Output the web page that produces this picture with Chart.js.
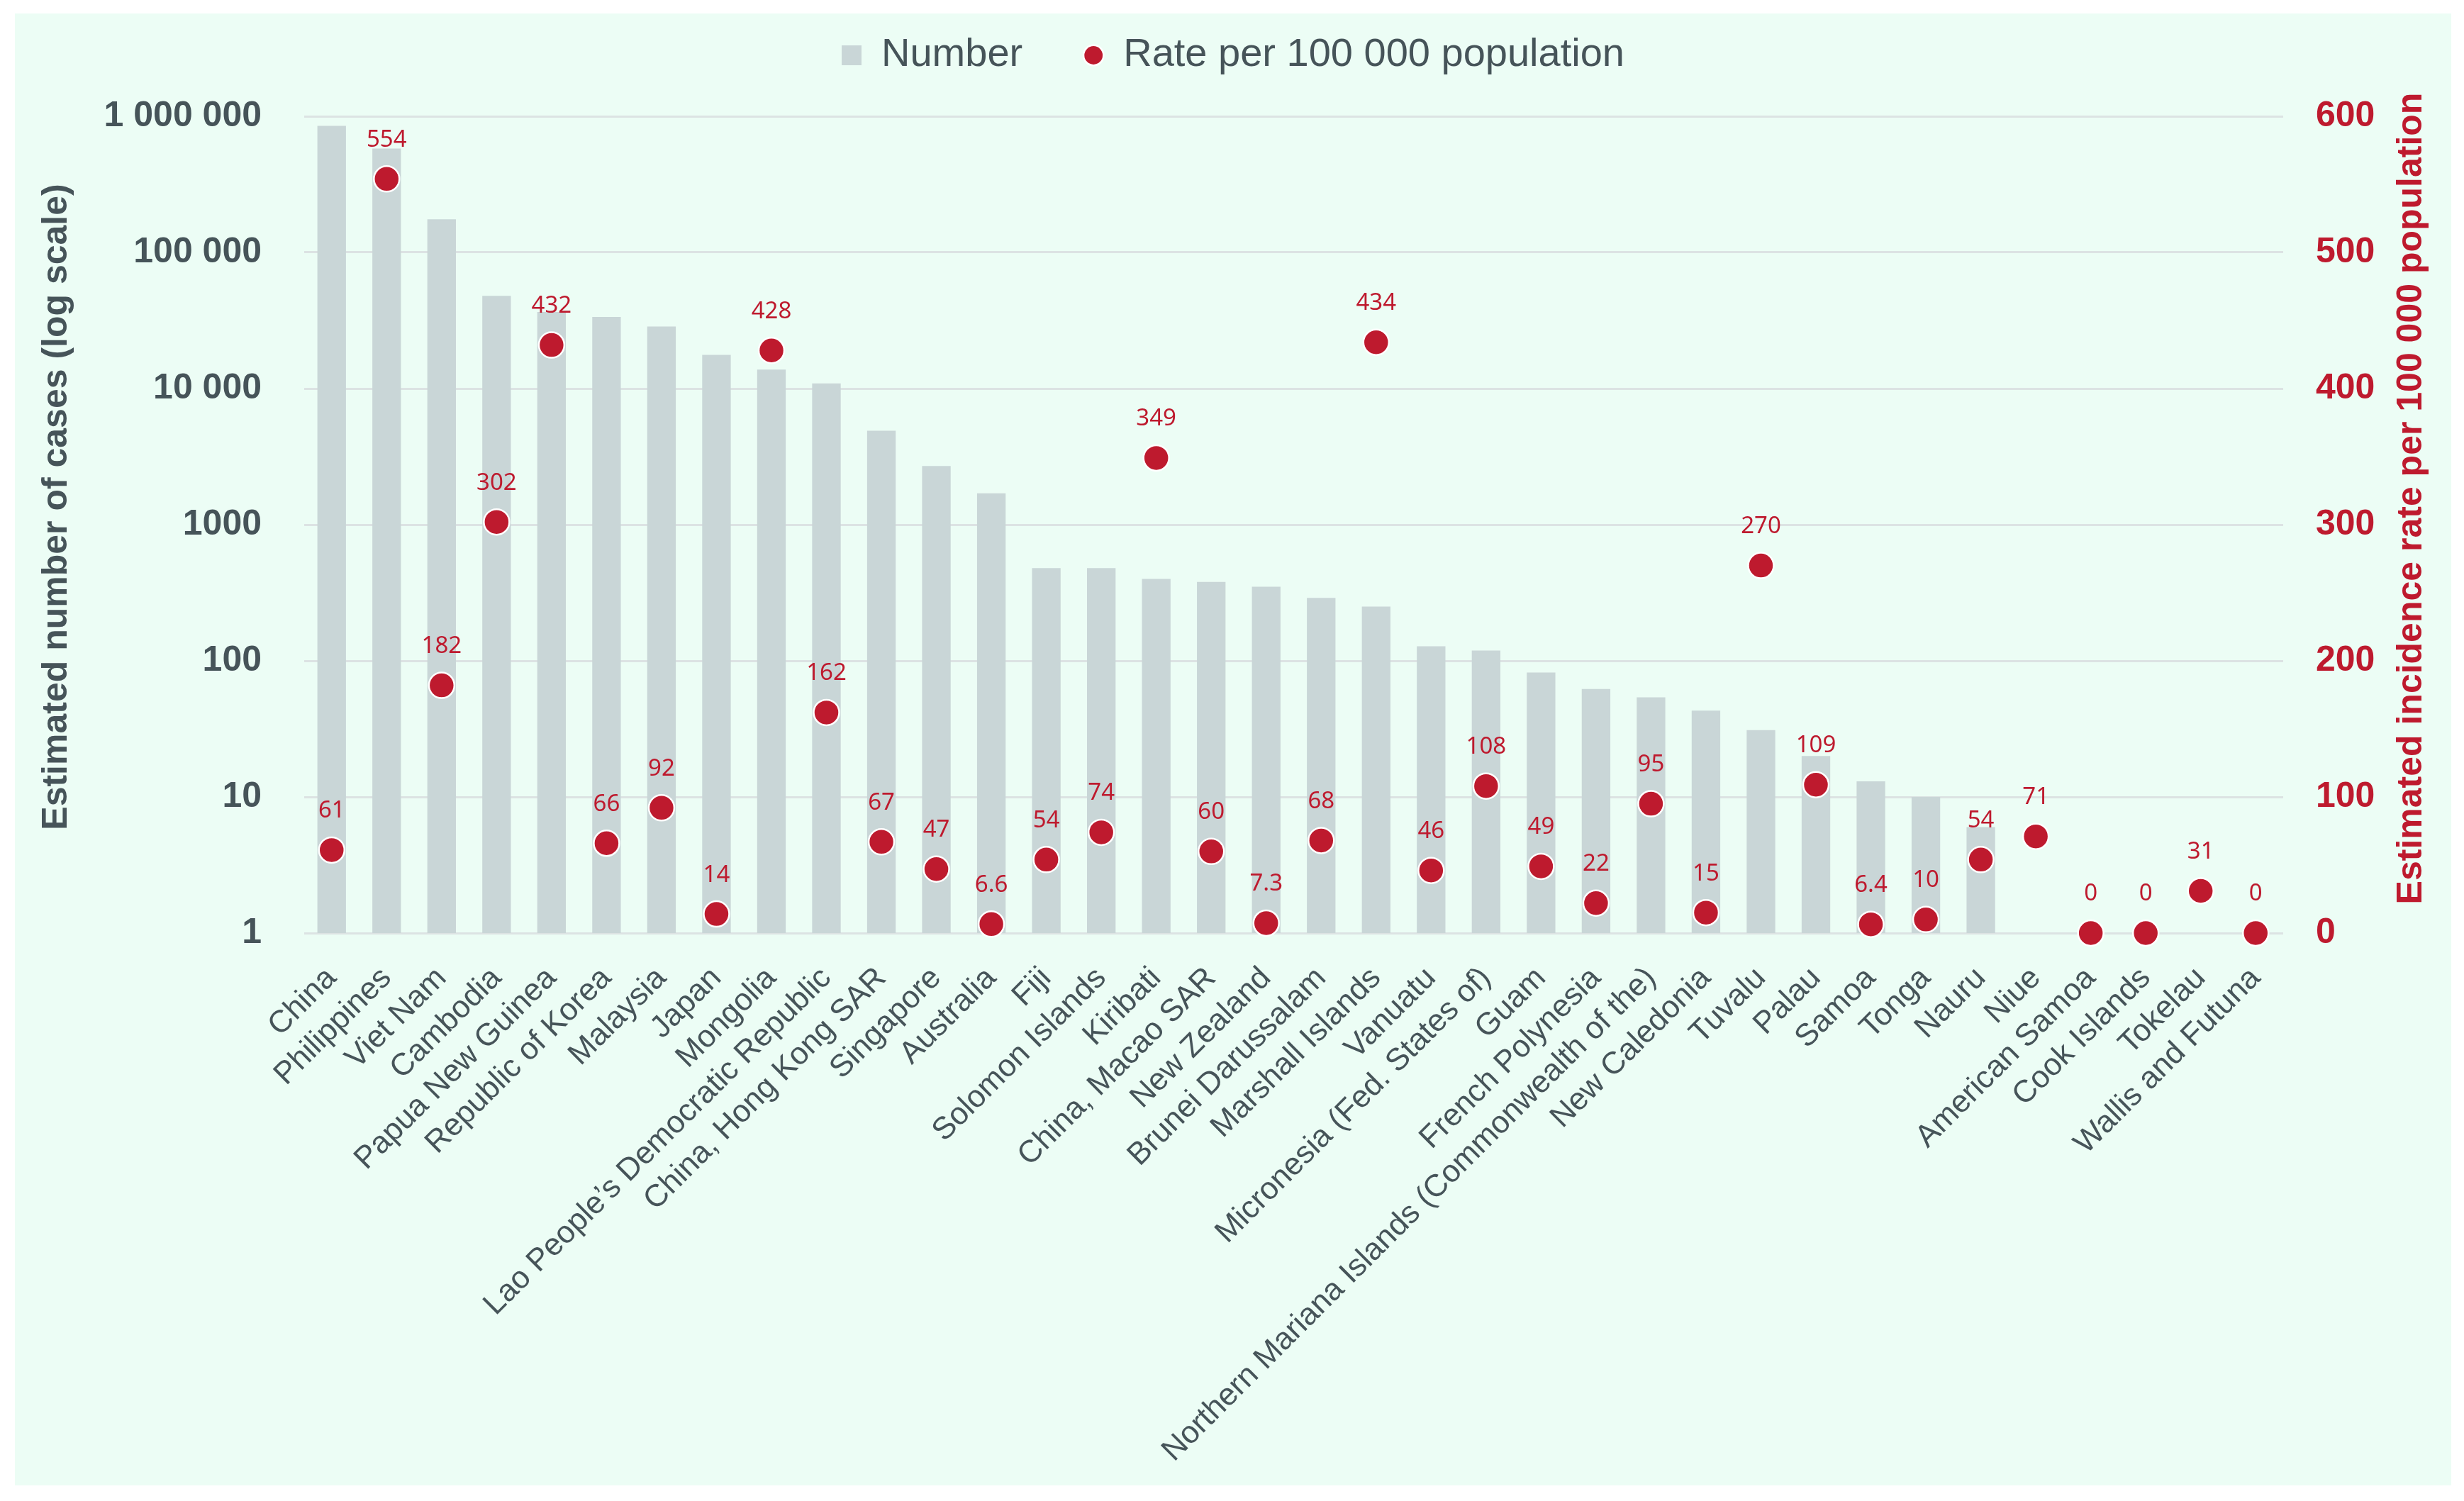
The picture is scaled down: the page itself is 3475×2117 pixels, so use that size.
<!DOCTYPE html>
<html>
<head>
<meta charset="utf-8">
<script src="https://cdn.jsdelivr.net/npm/chart.js@4.4.1/dist/chart.umd.min.js"></script>
<style>
  html, body { margin: 0; padding: 0; background: #ffffff; }
  #frame { position: absolute; left: 21px; top: 19px; width: 3436px; height: 2076px; background: #ecfdf5; }
</style>
</head>
<body>
<div id="frame"><canvas id="tbChart"></canvas></div>
<script>
// data
const countries = ['China', 'Philippines', 'Viet Nam', 'Cambodia', 'Papua New Guinea', 'Republic of Korea',
  'Malaysia', 'Japan', 'Mongolia', 'Lao People’s Democratic Republic', 'China, Hong Kong SAR', 'Singapore',
  'Australia', 'Fiji', 'Solomon Islands', 'Kiribati', 'China, Macao SAR', 'New Zealand', 'Brunei Darussalam',
  'Marshall Islands', 'Vanuatu', 'Micronesia (Fed. States of)', 'Guam', 'French Polynesia',
  'Northern Mariana Islands (Commonwealth of the)', 'New Caledonia', 'Tuvalu', 'Palau', 'Samoa', 'Tonga',
  'Nauru', 'Niue', 'American Samoa', 'Cook Islands', 'Tokelau', 'Wallis and Futuna'];
const cases = [850000, 580000, 175000, 48000, 36500, 33600, 28600, 17700, 13800, 10900, 4900, 2700,
  1700, 480, 480, 400, 380, 350, 290, 250, 128, 119, 82, 62, 54, 43, 31, 20, 13, 10, 6, 1, 0, 0, 1, 0];
const rates = [61, 554, 182, 302, 432, 66, 92, 14, 428, 162, 67, 47, 6.6, 54, 74, 349, 60, 7.3, 68,
  434, 46, 108, 49, 22, 95, 15, 270, 109, 6.4, 10, 54, 71, 0, 0, 31, 0];
const caseTicks = [1, 10, 100, 1000, 10000, 100000, 1000000];
const rateTicks = [0, 100, 200, 300, 400, 500, 600];

const slate = '#465459';
const red = '#be1a2e';
const barGrey = '#c9d6d7';
const gridGrey = '#dce3e3';

// square marker for the "Number" legend entry
const numberMark = document.createElement('canvas');
numberMark.width = 28;
numberMark.height = 28;
const nm = numberMark.getContext('2d');
nm.fillStyle = barGrey;
nm.fillRect(0, 0, 28, 28);

function spaced(v) {
  if (v < 10000) return String(v);
  return String(v).replace(/\B(?=(\d{3})+(?!\d))/g, ' ');
}

// extra room between legend and plot
const legendGap = {
  id: 'legendGap',
  beforeInit(chart) {
    const fit = chart.legend.fit;
    chart.legend.fit = function () {
      fit.bind(chart.legend)();
      this.height += 48;
    };
  }
};

// value labels over the red dots
const rateLabels = {
  id: 'rateLabels',
  afterDatasetsDraw(chart) {
    const ctx = chart.ctx;
    const meta = chart.getDatasetMeta(1);
    ctx.save();
    ctx.font = '33px "Noto Sans"';
    ctx.fillStyle = red;
    ctx.textAlign = 'center';
    ctx.textBaseline = 'middle';
    meta.data.forEach((pt, i) => {
      ctx.fillText(String(rates[i]), pt.x, pt.y - 55);
    });
    ctx.restore();
  }
};

// both axis titles read bottom-to-top, sitting a bit above the plot centre
function sideTitle(ctx, text, x, y, color) {
  ctx.save();
  ctx.translate(x, y);
  ctx.rotate(-Math.PI / 2);
  ctx.font = 'bold 50px "Liberation Sans"';
  ctx.fillStyle = color;
  ctx.textAlign = 'center';
  ctx.textBaseline = 'middle';
  ctx.fillText(text, 0, 0);
  ctx.restore();
}

const axisTitles = {
  id: 'axisTitles',
  afterDraw(chart) {
    const mid = (chart.chartArea.top + chart.chartArea.bottom) / 2;
    sideTitle(chart.ctx, 'Estimated number of cases (log scale)', 59, mid - 25, slate);
    sideTitle(chart.ctx, 'Estimated incidence rate per 100 000 population', 3380, mid - 37, red);
  }
};

const ctx = document.getElementById('tbChart').getContext('2d');
new Chart(ctx, {
  type: 'bar',
  data: {
    labels: countries,
    datasets: [{
      label: 'Number',
      data: cases,
      yAxisID: 'y',
      order: 1,
      backgroundColor: barGrey,
      borderWidth: 0,
      barPercentage: 0.52,
      categoryPercentage: 1.0,
      pointStyle: numberMark
    }, {
      type: 'line',
      label: 'Rate per 100 000 population',
      data: rates,
      yAxisID: 'y1',
      order: 0,
      showLine: false,
      clip: false,
      pointStyle: 'circle',
      pointRadius: 18,
      pointHoverRadius: 18,
      pointBackgroundColor: red,
      pointBorderColor: '#ffffff',
      pointBorderWidth: 2.5,
      backgroundColor: red,
      borderColor: red
    }]
  },
  options: {
    responsive: true,
    maintainAspectRatio: false,
    animation: false,
    devicePixelRatio: 1,
    layout: { padding: { top: -55, left: 0, right: 0, bottom: 0 } },
    plugins: {
      tooltip: { enabled: false },
      legend: {
        position: 'top',
        labels: {
          usePointStyle: true,
          boxWidth: 28,
          boxHeight: 20,
          padding: 86,
          color: slate,
          font: { family: '"Liberation Sans", Arial, sans-serif', size: 56 },
          sort: (a, b) => a.datasetIndex - b.datasetIndex
        }
      }
    },
    scales: {
      x: {
        grid: { display: false },
        border: { display: false },
        ticks: {
          autoSkip: false,
          minRotation: 45,
          maxRotation: 45,
          padding: 30,
          color: slate,
          font: { family: '"Liberation Sans", Arial, sans-serif', size: 44 }
        },
        afterFit: (scale) => { scale.height = 779; }
      },
      y: {
        type: 'logarithmic',
        position: 'left',
        min: 1,
        max: 1000000,
        afterBuildTicks: (axis) => { axis.ticks = caseTicks.map(v => ({ value: v })); },
        grid: { color: gridGrey, lineWidth: 3, drawTicks: false },
        border: { display: false },
        ticks: {
          padding: 60,
          color: slate,
          font: { family: '"Liberation Sans", Arial, sans-serif', size: 50, weight: 'bold' },
          callback: (v) => spaced(v)
        },
        afterFit: (scale) => { scale.width = 408; }
      },
      y1: {
        type: 'linear',
        position: 'right',
        min: 0,
        max: 600,
        afterBuildTicks: (axis) => { axis.ticks = rateTicks.map(v => ({ value: v })); },
        grid: { drawOnChartArea: false, drawTicks: false },
        border: { display: false },
        ticks: {
          padding: 46,
          color: red,
          font: { family: '"Liberation Sans", Arial, sans-serif', size: 50, weight: 'bold' }
        },
        afterFit: (scale) => { scale.width = 237; }
      }
    }
  },
  plugins: [legendGap, rateLabels, axisTitles]
});
</script>
</body>
</html>
